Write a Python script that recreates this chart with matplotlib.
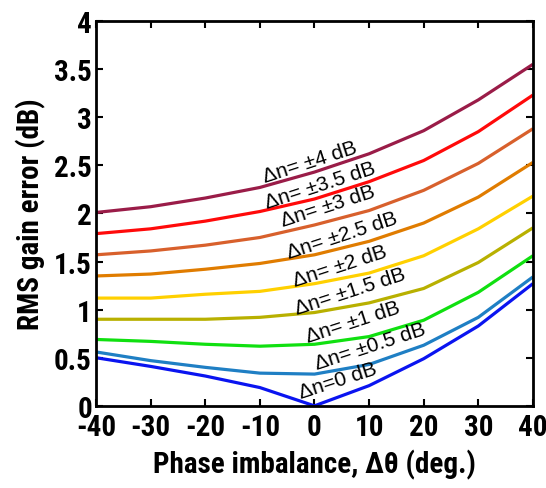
import matplotlib
matplotlib.use("Agg")
import matplotlib.pyplot as plt

# phase imbalance (deg)
phase = [-40, -30, -20, -10, 0, 10, 20, 30, 40]

# RMS gain error (dB) for each amplitude imbalance
dn_0 = [0.50, 0.41, 0.31, 0.19, 0.00, 0.21, 0.49, 0.83, 1.27]
dn_05 = [0.56, 0.47, 0.40, 0.34, 0.33, 0.43, 0.63, 0.92, 1.34]
dn_1 = [0.69, 0.67, 0.64, 0.62, 0.64, 0.72, 0.89, 1.18, 1.56]
dn_15 = [0.90, 0.90, 0.90, 0.92, 0.97, 1.07, 1.22, 1.49, 1.85]
dn_2 = [1.12, 1.12, 1.16, 1.19, 1.27, 1.38, 1.56, 1.84, 2.18]
dn_25 = [1.35, 1.37, 1.42, 1.48, 1.57, 1.71, 1.90, 2.17, 2.53]
dn_3 = [1.57, 1.61, 1.67, 1.75, 1.88, 2.03, 2.24, 2.52, 2.88]
dn_35 = [1.79, 1.84, 1.92, 2.02, 2.15, 2.33, 2.55, 2.85, 3.23]
dn_4 = [2.01, 2.07, 2.16, 2.27, 2.43, 2.62, 2.86, 3.18, 3.55]

series = [dn_0, dn_05, dn_1, dn_15, dn_2, dn_25, dn_3, dn_35, dn_4]
labels = ["\u0394n=0 dB", "\u0394n= \u00b10.5 dB", "\u0394n= \u00b11 dB",
          "\u0394n= \u00b11.5 dB", "\u0394n= \u00b12 dB", "\u0394n= \u00b12.5 dB",
          "\u0394n= \u00b13 dB", "\u0394n= \u00b13.5 dB", "\u0394n= \u00b14 dB"]
colors = ["#0a14f0", "#1f7fc4", "#10e010", "#b8b000", "#ffd000",
          "#e07c00", "#d8602c", "#ff0a0a", "#9a1c48"]
# label anchor (x, y) in data coords
label_pos = [(4.3, 0.27), (10.2, 0.62), (7.1, 0.88), (6.5, 1.19), (4.7, 1.46),
             (5.1, 1.78), (2.5, 2.08), (1.0, 2.30), (-0.8, 2.54)]

xticks = [-40, -30, -20, -10, 0, 10, 20, 30, 40]
xticklabels = ["-40", "-30", "-20", "-10", "0", "10", "20", "30", "40"]
yticks = [0, 0.5, 1, 1.5, 2, 2.5, 3, 3.5, 4]
yticklabels = ["0", "0.5", "1", "1.5", "2", "2.5", "3", "3.5", "4"]

narrow = ["Liberation Sans Narrow", "DejaVu Sans Condensed", "Roboto Condensed",
          "Liberation Sans", "DejaVu Sans"]
regular = ["Liberation Sans", "DejaVu Sans"]

fig = plt.figure(figsize=(5.46, 4.89), dpi=100)
ax = fig.add_axes([0.176, 0.168, 0.8, 0.787])

for ys, c in zip(series, colors):
    ax.plot(phase, ys, color=c, lw=2.3, solid_capstyle="butt")

for (lx, ly), txt in zip(label_pos, labels):
    ax.text(lx, ly, txt, rotation=18, ha="center", va="center",
            fontsize=15, family=regular, rotation_mode="anchor")

ax.set_xlim(-40, 40)
ax.set_ylim(0, 4)
ax.set_xticks(xticks)
ax.set_xticklabels(xticklabels)
ax.set_yticks(yticks)
ax.set_yticklabels(yticklabels)
ax.tick_params(direction="in", top=True, right=True, length=5, width=1.5, pad=3)
ax.tick_params(axis="x", pad=5)
for lab in ax.get_xticklabels() + ax.get_yticklabels():
    lab.set_family(narrow)
    lab.set_fontweight("bold")
    lab.set_fontsize(21)
for sp in ax.spines.values():
    sp.set_linewidth(2)

ax.set_xlabel("Phase imbalance, \u0394\u03b8 (deg.)", fontsize=21,
              fontweight="bold", family=narrow, labelpad=6)
ax.set_ylabel("RMS gain error (dB)", fontsize=21, fontweight="bold",
              family=narrow, labelpad=6)

fig.savefig("out.png", dpi=100)
